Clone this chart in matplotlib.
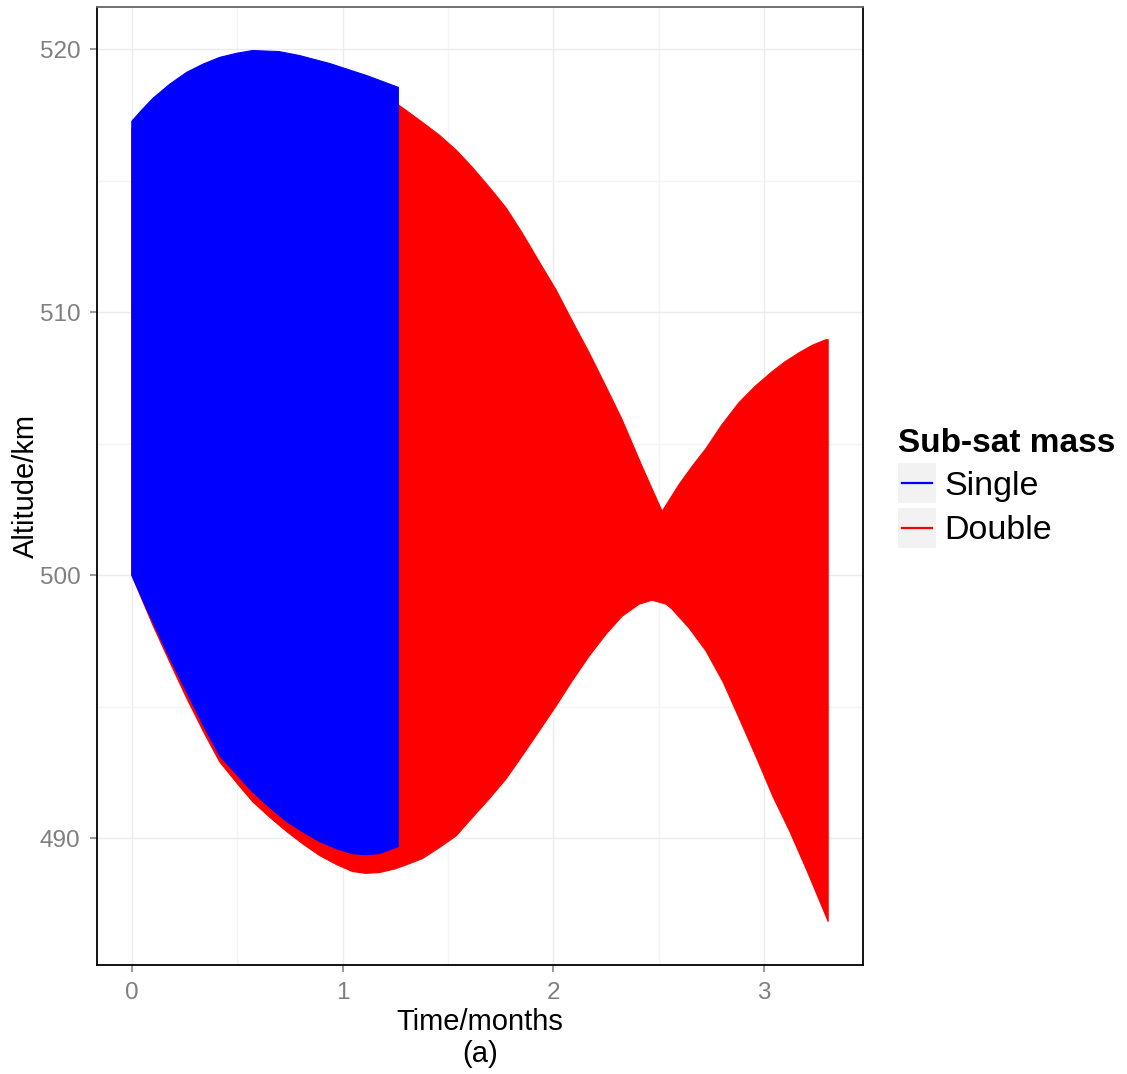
import numpy as np
import matplotlib
matplotlib.use('Agg')
import matplotlib.pyplot as plt
from matplotlib.lines import Line2D
from matplotlib.patches import Rectangle
from matplotlib.legend_handler import HandlerBase
from matplotlib.ticker import MultipleLocator

plt.rcParams['font.family'] = ['Liberation Sans', 'DejaVu Sans']

# altitude trace oscillates fast, so it is drawn as its upper/lower envelope
single_t_hi   = [0.0, 0.05, 0.10, 0.18, 0.26, 0.34, 0.417, 0.50, 0.573, 0.70, 0.796, 0.938, 1.114, 1.265]
single_alt_hi = [517.27, 517.72, 518.14, 518.68, 519.13, 519.45, 519.70, 519.86, 519.96, 519.92,
                 519.77, 519.47, 519.01, 518.56]
single_t_lo   = [0.0, 0.05, 0.10, 0.18, 0.26, 0.34, 0.417, 0.50, 0.573, 0.655, 0.735, 0.815,
                 0.891, 0.97, 1.047, 1.11, 1.175, 1.265]
single_alt_lo = [500.0, 499.09, 498.22, 496.85, 495.56, 494.28, 493.13, 492.40, 491.76, 491.16,
                 490.63, 490.22, 489.87, 489.60, 489.41, 489.37, 489.41, 489.68]

double_t_hi   = [0.0, 0.26, 0.573, 0.938, 1.175, 1.270, 1.379, 1.460, 1.540, 1.616, 1.697, 1.777,
                 1.853, 1.934, 2.014, 2.090, 2.171, 2.251, 2.327, 2.422, 2.517, 2.597, 2.66,
                 2.725, 2.80, 2.882, 2.96, 3.038, 3.10, 3.166, 3.23, 3.294, 3.305]
double_alt_hi = [517.0, 518.8, 519.5, 519.0, 518.3, 517.87, 517.23, 516.74, 516.17, 515.52,
                 514.76, 513.97, 513.02, 511.92, 510.85, 509.68, 508.46, 507.17, 505.92, 504.14,
                 502.43, 503.45, 504.15, 504.82, 505.72, 506.57, 507.20, 507.74, 508.12, 508.46,
                 508.75, 508.96, 508.96]
double_t_lo   = [0.0, 0.05, 0.10, 0.18, 0.26, 0.34, 0.417, 0.50, 0.573, 0.655, 0.735, 0.815,
                 0.891, 0.97, 1.047, 1.11, 1.175, 1.25, 1.318, 1.379, 1.460, 1.540, 1.616,
                 1.697, 1.777, 1.853, 1.934, 2.014, 2.090, 2.171, 2.251, 2.327, 2.408, 2.469,
                 2.536, 2.564, 2.645, 2.725, 2.806, 2.886, 2.967, 3.043, 3.123, 3.204, 3.305]
double_alt_lo = [500.0, 499.05, 498.10, 496.70, 495.33, 494.05, 492.90, 492.08, 491.39, 490.79,
                 490.25, 489.76, 489.34, 489.00, 488.73, 488.66, 488.69, 488.83, 489.03, 489.22,
                 489.64, 490.09, 490.78, 491.50, 492.26, 493.13, 494.08, 495.03, 495.98, 496.93,
                 497.76, 498.44, 498.90, 499.05, 498.90, 498.71, 497.99, 497.12, 495.94, 494.50,
                 493.02, 491.58, 490.25, 488.77, 486.83]

series = [
    ('Double', '#ff0000', double_t_hi, double_alt_hi, double_t_lo, double_alt_lo),
    ('Single', '#0000ff', single_t_hi, single_alt_hi, single_t_lo, single_alt_lo),
]


class KeyHandler(HandlerBase):
    """grey key box with a short centred line, ggplot style"""
    def create_artists(self, legend, orig_handle, xdescent, ydescent, width, height, fontsize, trans):
        bg = Rectangle((-xdescent, -ydescent), width, height, facecolor='#f2f2f2',
                       edgecolor='none', transform=trans)
        y = -ydescent + height / 2
        ln = Line2D([-xdescent + 0.1 * width, -xdescent + 0.9 * width], [y, y],
                    color=orig_handle.get_color(), lw=orig_handle.get_linewidth(), transform=trans)
        return [bg, ln]


fig = plt.figure(figsize=(11.27, 10.74), dpi=100, facecolor='white')
ax = fig.add_axes([97/1127, 1 - 965/1074, 766/1127, 958/1074])

for name, col, th, ah, tl, al in series:
    xs = np.r_[th, tl[::-1]]
    ys = np.r_[ah, al[::-1]]
    ax.fill(xs, ys, facecolor=col, edgecolor=col, lw=0.8, joinstyle='round', zorder=2)

# ggplot-style 5% expansion
all_t = np.r_[double_t_hi, double_t_lo, single_t_hi, single_t_lo]
all_a = np.r_[double_alt_hi, double_alt_lo, single_alt_hi, single_alt_lo]
tr = all_t.max() - all_t.min()
ar = all_a.max() - all_a.min()
ax.set_xlim(all_t.min() - 0.05*tr, all_t.max() + 0.05*tr)
ax.set_ylim(all_a.min() - 0.05*ar, all_a.max() + 0.05*ar)

ax.xaxis.set_major_locator(MultipleLocator(1))
ax.xaxis.set_minor_locator(MultipleLocator(0.5))
ax.yaxis.set_major_locator(MultipleLocator(10))
ax.yaxis.set_minor_locator(MultipleLocator(5))
ax.grid(which='major', color='#ebebeb', lw=1.0)
ax.grid(which='minor', color='#f4f4f4', lw=1.0)
ax.set_axisbelow(True)

ax.tick_params(which='major', length=5, width=1.1, color='#7f7f7f',
               labelcolor='#7f7f7f', labelsize=17.5, pad=7)
ax.tick_params(which='minor', length=0)
for s in ax.spines.values():
    s.set_color('black')
    s.set_linewidth(1.3)
ax.spines['top'].set_color('#666666')

ax.set_xlabel('Time/months\n(a)', fontsize=21, labelpad=3, linespacing=1.18)
ax.set_ylabel('Altitude/km', fontsize=21, labelpad=0)

handles = [Line2D([], [], color=col, lw=1.6) for _, col, *_ in series[::-1]]
labels = [name for name, *_ in series[::-1]]
leg = fig.legend(handles, labels, title='Sub-sat mass',
                 handler_map={Line2D: KeyHandler()},
                 loc='upper left', bbox_to_anchor=(898/1127, 1 - 428/1074),
                 frameon=False, fontsize=24.5, title_fontproperties={'weight': 'bold', 'size': 24},
                 handlelength=1.12, handleheight=1.45, handletextpad=0.25,
                 labelspacing=0.12, borderpad=0, borderaxespad=0, alignment='left')

fig.savefig('out.png', dpi=100, facecolor='white')
